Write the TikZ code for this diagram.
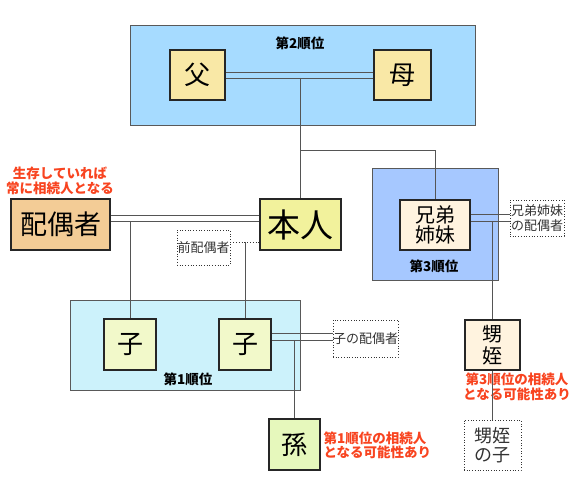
\documentclass[tikz,border=0pt]{standalone}
\usepackage{fontspec}
\setmainfont{Noto Sans CJK JP}
\usepackage{tikz}
\usetikzlibrary{positioning}

\definecolor{grpA}{HTML}{A6DBFF}
\definecolor{grpB}{HTML}{CCF2FB}
\definecolor{grpC}{HTML}{A6C8FF}
\definecolor{fillFu}{HTML}{F9E8A6}
\definecolor{fillHon}{HTML}{F2F29C}
\definecolor{fillHai}{HTML}{F3CC96}
\definecolor{fillKo}{HTML}{F2F9CA}
\definecolor{fillMago}{HTML}{E6F8BC}
\definecolor{fillKyo}{HTML}{FFF3DF}
\definecolor{noteRed}{HTML}{F84420}
\definecolor{lineGray}{HTML}{555555}

\begin{document}
\begin{tikzpicture}[x=1pt,y=-1pt,
  person/.style={draw=black!85,line width=1.6pt,inner sep=0pt,align=center},
  other/.style={draw=black!80,dotted,line width=0.7pt,inner sep=0pt,align=center,
    text=black!80,font=\fontsize{13}{15}\selectfont},
  group/.style={draw=black!65,line width=0.8pt},
  rank/.style={font=\bfseries\fontsize{13.5}{15}\selectfont},
  note/.style={text=noteRed,align=left,font=\bfseries\fontsize{13.5}{14.5}\selectfont},
  link/.style={draw=lineGray,line width=0.8pt}]

\useasboundingbox (0,0) rectangle (570,500);

% groups
\draw[group,fill=grpA] (130,25) rectangle (475,125);
\draw[group,fill=grpB] (70,300) rectangle (300,390);
\draw[group,fill=grpC] (372,168) rectangle (498,280);
\node[rank] (r2) at (300,43) {第2順位};
\node[rank] (r1) at (188,379) {第1順位};
\node[rank] (r3) at (434,266) {第3順位};

\node[person,fill=fillFu,minimum width=55pt,minimum height=50pt,
  font=\fontsize{26}{28}\selectfont] (fu) at (197.5,75) {父};
\node[person,fill=fillFu,minimum width=57pt,minimum height=50pt,
  font=\fontsize{26}{28}\selectfont] (mo) at (402.5,75) {母};
\node[person,fill=fillHon,minimum width=81pt,minimum height=51pt,
  font=\fontsize{33}{35}\selectfont] (honnin) at (300.5,224.5) {本人};
\node[person,fill=fillHai,minimum width=99pt,minimum height=51pt,
  font=\fontsize{27}{29}\selectfont] (haigu) at (60.5,224.5) {配偶者};
\node[person,fill=fillKyo,minimum width=70pt,minimum height=50pt,
  font=\fontsize{20}{20}\selectfont] (kyodai) at (435,225) {兄弟\\姉妹};
\node[person,fill=fillKo,minimum width=52pt,minimum height=51pt,
  font=\fontsize{26}{28}\selectfont] (ko1) at (130,344.5) {子};
\node[person,fill=fillKo,minimum width=52pt,minimum height=51pt,
  font=\fontsize{26}{28}\selectfont] (ko2) at (245,344.5) {子};
\node[person,fill=fillMago,minimum width=51pt,minimum height=51pt,
  font=\fontsize{26}{28}\selectfont] (mago) at (294.5,444.5) {孫};
\node[person,fill=fillKyo,minimum width=55pt,minimum height=50pt,
  font=\fontsize{20}{22}\selectfont] (oimei) at (492.5,345) {甥\\姪};

\node[other,minimum width=53pt,minimum height=35pt] (zenhai) at (203.5,247.5) {前配偶者};
\node[other,minimum width=65pt,minimum height=37pt] (kohai) at (365.5,338.5) {子の配偶者};
\node[other,minimum width=54pt,minimum height=36pt] (kyohai) at (537,218) {兄弟姉妹\\の配偶者};
\node[other,minimum width=57pt,minimum height=50pt,
  font=\fontsize{18}{19}\selectfont] (oimeiko) at (492.5,445) {甥姪\\の子};

\node[note,align=center] (n1) at (60,181) {生存していれば\\常に相続人となる};
\node[note,anchor=west] (n2) at (320,445.5) {第1順位の相続人\\となる可能性あり};
\node[note,align=center] (n3) at (517,387) {第3順位の相続人\\となる可能性あり};

% marriages
\coordinate (fuL) at ([yshift=-3pt]fu.east);
\coordinate (haiL) at ([yshift=3.5pt]haigu.east);
\coordinate (zenL) at ([yshift=5.5pt]zenhai.east);
\coordinate (koL) at ([yshift=4.5pt]ko2.east);
\coordinate (kyoL) at ([yshift=4pt]kyodai.east);
\coordinate (br) at (honnin.north |- 0,150);

\path[link]
  ([yshift=3pt]fu.east) edge ([yshift=3pt]mo.west)
  (fuL) edge (fuL -| mo.west)
  ([yshift=9.5pt]haigu.east) edge ([yshift=9.5pt]honnin.west)
  (haiL) edge (haiL -| honnin.west)
  ([yshift=11.5pt]ko2.east) edge ([yshift=11.5pt]ko2.east -| kohai.west)
  (koL) edge (koL -| kohai.west)
  ([yshift=11pt]kyodai.east) edge ([yshift=11pt]kyodai.east -| kyohai.west)
  (kyoL) edge (kyoL -| kyohai.west)
  (zenL) edge[dotted,draw=black!80] (zenL -| honnin.west)

  (fuL -| honnin.north) edge (honnin.north)
  (br) edge (br -| kyodai.north)
  (br -| kyodai.north) edge (kyodai.north)
  (haiL -| ko1.north) edge (ko1.north)
  (zenL -| ko2.north) edge (ko2.north)
  (koL -| mago.north) edge (mago.north)
  (kyoL -| oimei.north) edge (oimei.north)
  (oimei.south) edge (oimeiko.north)
;
\end{tikzpicture}
\end{document}
